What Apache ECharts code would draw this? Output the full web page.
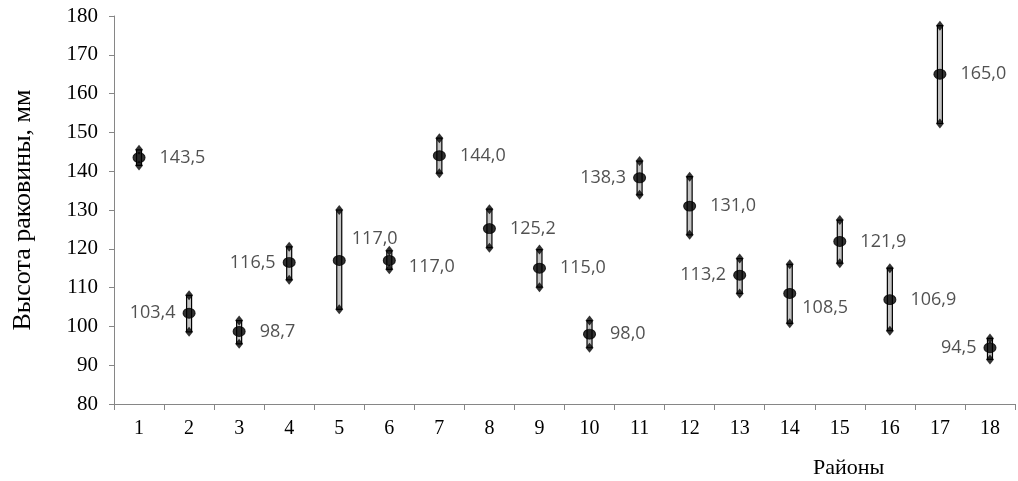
<!DOCTYPE html>
<html>
<head>
<meta charset="utf-8">
<script src="https://cdn.jsdelivr.net/npm/echarts@6/dist/echarts.min.js"></script>
<style>
	html, body { margin: 0; padding: 0; background: #fff; }
	#chart { width: 1018px; height: 481px; }
</style>
</head>
<body>
<div id="chart"></div>
<script>
// данные: районы, средние, мин и макс высоты раковины
var districts = ['1', '2', '3', '4', '5', '6', '7', '8', '9', '10', '11', '12', '13', '14', '15', '16', '17', '18'];
var meanVals = [143.5, 103.4, 98.7, 116.5, 117.0, 117.0, 144.0, 125.2, 115.0, 98.0, 138.3, 131.0, 113.2, 108.5, 121.9, 106.9, 165.0, 94.5];
var maxVals = [145.5, 108.0, 101.5, 120.5, 130.0, 119.5, 148.5, 130.2, 119.8, 101.5, 142.6, 138.6, 117.5, 116.0, 127.4, 115.0, 177.5, 96.9];
var minVals = [141.5, 98.6, 95.5, 112.0, 104.4, 114.7, 139.5, 120.3, 110.1, 94.5, 133.9, 123.6, 108.5, 100.8, 116.3, 98.9, 152.3, 91.5];
var yTicks = [80, 180, 10];

window.onload = function() {
	initChart();
};

function fmt(v) {
	return v.toFixed(1).replace('.', ',');
}

function initChart() {
	var myChart = echarts.init(document.getElementById('chart'));
	var serif = '"Liberation Serif", "DejaVu Serif", serif';

	// где стоит подпись у точки
	var leftSide = { 1: true, 3: true, 10: true, 12: true, 17: true };
	var special = {
		4: { position: 'right', distance: 6, offset: [0, -22] },
		5: { position: 'right', distance: 13, offset: [0, 6] },
		13: { position: 'right', distance: 6, offset: [0, 14] }
	};

	var meanData = meanVals.map(function(v, i) {
		var lbl = special[i] || (leftSide[i] ? { position: 'left', distance: 7 } : { position: 'right', distance: 14 });
		return { value: [i, v], label: lbl };
	});
	var endData = [];
	for (var i = 0; i < districts.length; i++) {
		endData.push([i, maxVals[i]]);
		endData.push([i, minVals[i]]);
	}

	option = {
		animation: false,
		grid: { left: 114, right: 3, top: 16, bottom: 77 },
		title: {
			text: 'Районы',
			left: 808,
			top: 452,
			textStyle: { fontFamily: serif, fontSize: 22, fontWeight: 'normal', color: '#000' }
		},
		xAxis: {
			type: 'category',
			data: districts,
			boundaryGap: true,
			axisLine: { lineStyle: { color: '#868686', width: 1 } },
			axisTick: { show: true, interval: 0, length: 6, lineStyle: { color: '#868686' } },
			axisLabel: { interval: 0, margin: 15, fontFamily: serif, fontSize: 20, color: '#000' },
			splitLine: { show: false }
		},
		yAxis: {
			type: 'value',
			min: yTicks[0],
			max: yTicks[1],
			interval: yTicks[2],
			name: 'Высота раковины, мм',
			nameLocation: 'middle',
			nameGap: 78,
			nameTextStyle: { fontFamily: serif, fontSize: 26, color: '#000' },
			axisLine: { show: true, lineStyle: { color: '#868686', width: 1 } },
			axisTick: { show: true, length: 5, lineStyle: { color: '#868686' } },
			axisLabel: { margin: 16, fontFamily: serif, fontSize: 21, color: '#000' },
			splitLine: { show: false }
		},
		series: [ {
			name: 'диапазон',
			type: 'custom',
			data: districts.map(function(d, i) { return [i, minVals[i], maxVals[i]]; }),
			renderItem: function(params, api) {
				var lo = api.coord([api.value(0), api.value(1)]);
				var hi = api.coord([api.value(0), api.value(2)]);
				return {
					type: 'rect',
					shape: { x: lo[0] - 2.5, y: hi[1], width: 5, height: lo[1] - hi[1] },
					style: { fill: '#c4c4c4', stroke: '#000', lineWidth: 1.2 }
				};
			},
			z: 2
		}, {
			name: 'мин-макс',
			type: 'scatter',
			data: endData,
			symbol: 'diamond',
			symbolSize: [8, 10],
			itemStyle: { color: '#000' },
			z: 3
		}, {
			name: 'среднее',
			type: 'scatter',
			data: meanData,
			symbol: 'circle',
			symbolSize: [12, 10],
			itemStyle: { color: '#000', borderColor: '#000', borderWidth: 1 },
			label: {
				show: true,
				fontFamily: '"Open Sans", "Noto Sans", sans-serif',
				fontSize: 18,
				color: '#262626',
				formatter: function(p) { return fmt(p.value[1]); }
			},
			z: 4
		} ]
	};
	myChart.setOption(option);
}
</script>
</body>
</html>
